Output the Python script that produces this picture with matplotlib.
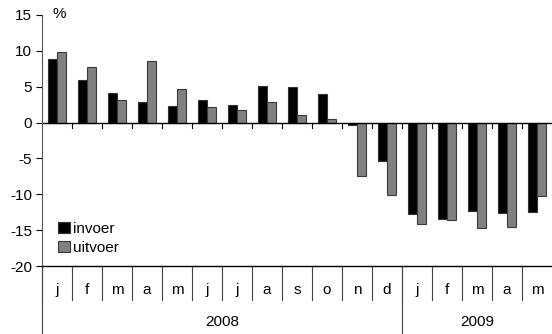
import matplotlib.pyplot as plt
import matplotlib.transforms as mtransforms
import numpy as np

plt.rcParams['font.family'] = ['Liberation Sans', 'DejaVu Sans']
plt.rcParams['axes.unicode_minus'] = False

months = ['j', 'f', 'm', 'a', 'm', 'j', 'j', 'a', 's', 'o', 'n', 'd',
          'j', 'f', 'm', 'a', 'm']
years = ['2008', '2009']
year_counts = [12, 5]
invoer = [8.9, 5.9, 4.1, 2.8, 2.3, 3.1, 2.5, 5.1, 5.0, 4.0, -0.3, -5.3,
          -12.7, -13.5, -12.3, -12.6, -12.5]
uitvoer = [9.8, 7.7, 3.1, 8.6, 4.75, 2.2, 1.8, 2.9, 1.0, 0.45, -7.5, -10.1,
           -14.2, -13.6, -14.7, -14.5, -10.3]

fs = 11
W, H = 552, 334
fig = plt.figure(figsize=(W / 100, H / 100), dpi=100)
ax = fig.add_axes([42 / W, (H - 266) / H, (W - 42) / W, 251 / H])

x = np.arange(len(months)) + 0.5
bw = 0.3
ax.bar(x - bw / 2, invoer, bw, color='black', edgecolor='#333333', linewidth=0.8, label='invoer')
ax.bar(x + bw / 2, uitvoer, bw, color='#808080', edgecolor='#3a3a3a', linewidth=0.8, label='uitvoer')

ax.set_xlim(0, len(months))
ax.set_ylim(-20, 15)
ax.set_yticks(np.arange(-20, 16, 5))
ax.tick_params(axis='y', length=4, width=0.8, labelsize=fs, pad=3)
ax.set_xticks([])
for s in ['top', 'right']:
    ax.spines[s].set_visible(False)
ax.spines['left'].set_color('#555555')
ax.spines['bottom'].set_linewidth(1.0)
ax.spines['left'].set_bounds(-20, 15)

# zero line with small ticks
ax.axhline(0, color='black', linewidth=1.0)
for b in range(1, len(months)):
    ax.plot([b, b], [0, -0.7], color='black', linewidth=0.8)

# category table below the axes
tr = mtransforms.blended_transform_factory(ax.transData, ax.transAxes)
mrow = 34 / 251
yrow = 68 / 251
for b in range(0, len(months)):
    ax.plot([b, b], [0, -mrow], color='#444444', linewidth=0.8, transform=tr, clip_on=False)
for i, m in enumerate(months):
    ax.text(x[i], -mrow * 0.72, m, transform=tr, ha='center', va='center', fontsize=fs)
start = 0
for yr, n in zip(years, year_counts):
    ax.plot([start, start], [0, -yrow], color='#444444', linewidth=0.8, transform=tr, clip_on=False)
    ax.text(start + n / 2, -0.223, yr, transform=tr, ha='center', va='center', fontsize=fs)
    start += n

ax.text(0.35, 15.2, '%', fontsize=fs, ha='left', va='center')

ax.legend(loc='lower left', bbox_to_anchor=(0.02, 0.02), frameon=False, fontsize=fs,
          handlelength=0.75, handleheight=0.75, handletextpad=0.2, labelspacing=0.35,
          borderaxespad=0)

fig.savefig('out.png', dpi=100)
